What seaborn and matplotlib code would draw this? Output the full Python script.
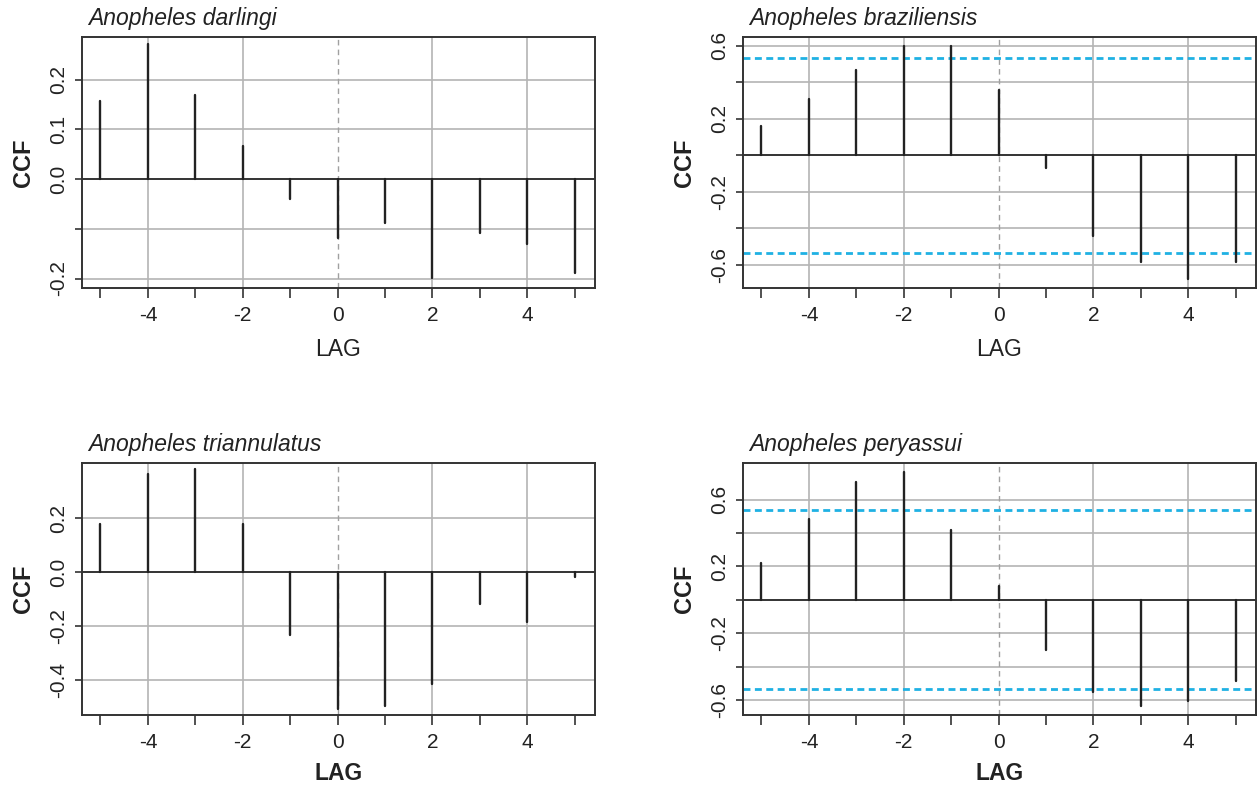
import numpy as np
import pandas as pd
import matplotlib
matplotlib.use("Agg")
import matplotlib.pyplot as plt
import seaborn as sns

lags = [-5, -4, -3, -2, -1, 0, 1, 2, 3, 4, 5]

species = ["Anopheles darlingi", "Anopheles braziliensis",
           "Anopheles triannulatus", "Anopheles peryassui"]

ccf_darlingi = [0.157, 0.272, 0.170, 0.067, -0.039, -0.119, -0.089, -0.199, -0.109, -0.130, -0.189]
ccf_braziliensis = [0.159, 0.307, 0.469, 0.597, 0.597, 0.360, -0.071, -0.444, -0.586, -0.678, -0.586]
ccf_triannulatus = [0.178, 0.364, 0.381, 0.179, -0.232, -0.507, -0.493, -0.415, -0.116, -0.183, -0.019]
ccf_peryassui = [0.218, 0.484, 0.706, 0.764, 0.420, 0.081, -0.300, -0.555, -0.639, -0.604, -0.487]

ci_braziliensis = 0.533
ci_peryassui = 0.537

yticks_darlingi = [-0.2, -0.1, 0.0, 0.1, 0.2]
ylabels_darlingi = ["-0.2", "", "0.0", "0.1", "0.2"]
yticks_braziliensis = [-0.6, -0.4, -0.2, 0.0, 0.2, 0.4, 0.6]
ylabels_braziliensis = ["-0.6", "", "-0.2", "", "0.2", "", "0.6"]
yticks_triannulatus = [-0.4, -0.2, 0.0, 0.2]
ylabels_triannulatus = ["-0.4", "-0.2", "0.0", "0.2"]
yticks_peryassui = [-0.6, -0.4, -0.2, 0.0, 0.2, 0.4, 0.6]
ylabels_peryassui = ["-0.6", "", "-0.2", "", "0.2", "", "0.6"]

xticks = [-4, -2, 0, 2, 4]

sns.set_theme(style="white")
plt.rcParams['font.family'] = ['Liberation Sans', 'DejaVu Sans']

W, H = 1257, 787
fig = plt.figure(figsize=(W / 100, H / 100), dpi=100)

def px_axes(l, t, r, b):
    return fig.add_axes([l / W, 1 - b / H, (r - l) / W, (b - t) / H])

panels = [
    dict(name=species[0], vals=ccf_darlingi, ci=None, yt=yticks_darlingi, yl=ylabels_darlingi,
         ylim=(-0.219, 0.286), box=(82, 37, 595, 288), lagbold=False),
    dict(name=species[1], vals=ccf_braziliensis, ci=ci_braziliensis, yt=yticks_braziliensis,
         yl=ylabels_braziliensis, ylim=(-0.727, 0.648), box=(743, 37, 1256, 288), lagbold=False),
    dict(name=species[2], vals=ccf_triannulatus, ci=None, yt=yticks_triannulatus,
         yl=ylabels_triannulatus, ylim=(-0.528, 0.404), box=(82, 463, 595, 715), lagbold=True),
    dict(name=species[3], vals=ccf_peryassui, ci=ci_peryassui, yt=yticks_peryassui,
         yl=ylabels_peryassui, ylim=(-0.69, 0.82), box=(743, 463, 1256, 715), lagbold=True),
]

for p in panels:
    ax = px_axes(*p["box"])
    ax.set_xlim(-5.39, 5.43)
    ax.set_ylim(*p["ylim"])
    # grid
    for yv in p["yt"]:
        if yv != 0:
            ax.axhline(yv, color="#b4b4b4", lw=1.2, zorder=0)
    for xv in xticks:
        if xv != 0:
            ax.axvline(xv, color="#b4b4b4", lw=1.2, zorder=0)
    ax.axvline(0, color="#a0a0a0", lw=1.0, ls=(0, (4, 3)), zorder=0)
    ax.axhline(0, color="#333333", lw=1.4, zorder=1)
    if p["ci"] is not None:
        ax.axhline(p["ci"], color="#1fb1e3", lw=2.0, ls=(0, (2.5, 1.6)), zorder=2)
        ax.axhline(-p["ci"], color="#1fb1e3", lw=2.0, ls=(0, (2.5, 1.6)), zorder=2)
    # stems
    rows = []
    for lg, v in zip(lags, p["vals"]):
        rows.append((lg, 0.0, lg))
        rows.append((lg, v, lg))
    df = pd.DataFrame(rows, columns=["lag", "ccf", "unit"])
    sns.lineplot(data=df, x="lag", y="ccf", units="unit", estimator=None, sort=False,
                 color="#222222", lw=1.7, ax=ax, zorder=3)
    ax.set_xticks(lags)
    ax.set_xticklabels([str(l) if l in xticks else "" for l in lags])
    ax.set_yticks(p["yt"])
    ax.set_yticklabels(p["yl"], rotation=90, va="center")
    ax.tick_params(axis="x", direction="out", length=7, width=1.2, color="#333333",
                   labelsize=15, labelcolor="#222222", pad=6, bottom=True)
    ax.tick_params(axis="y", direction="out", length=5, width=1.2, color="#333333",
                   labelsize=15, labelcolor="#222222", pad=5, left=True)
    for s in ax.spines.values():
        s.set_color("#333333")
        s.set_linewidth(1.4)
        s.set_visible(True)
    ax.set_ylabel("CCF", fontsize=17, fontweight="bold", color="#222222", labelpad=10)
    ax.set_xlabel("LAG", fontsize=16.5, fontweight="bold" if p["lagbold"] else "normal",
                  color="#222222", labelpad=7 if p["lagbold"] else 9)
    ax.set_title(p["name"], loc="left", fontsize=16.5, style="italic", color="#222222",
                 pad=9, x=0.012)

fig.savefig("out.png", dpi=100)
